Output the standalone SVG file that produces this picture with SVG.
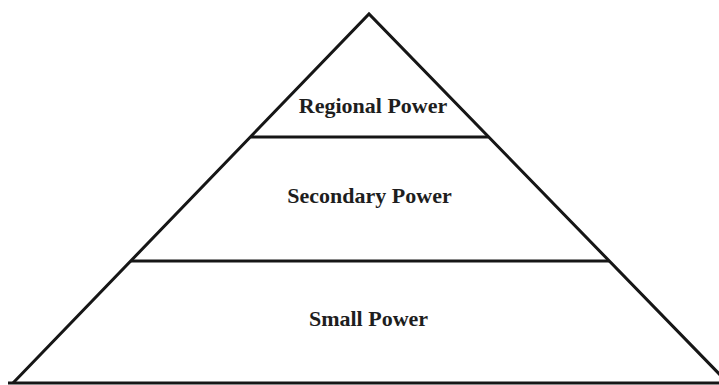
<svg xmlns="http://www.w3.org/2000/svg" width="719" height="385" viewBox="0 0 719 385">
<style>
.edge{stroke:#161616;stroke-width:3;fill:none;stroke-linejoin:miter}
.lbl{font-family:"Liberation Serif","Times New Roman",serif;font-weight:bold;font-size:22px;fill:#1e1e1e;text-anchor:middle}
</style>
<rect width="719" height="385" fill="#ffffff"/>
<g id="connectors">
<polyline class="edge" points="13,383 369,14 728,383"/>
<line class="edge" x1="8" y1="383" x2="719" y2="383"/>
<line class="edge" x1="251" y1="137" x2="488" y2="137"/>
<line class="edge" x1="131" y1="261" x2="609" y2="261"/>
</g>
<g id="regional-power"><text class="lbl" x="373" y="113">Regional Power</text></g>
<g id="secondary-power"><text class="lbl" x="369.5" y="203">Secondary Power</text></g>
<g id="small-power"><text class="lbl" x="368.5" y="326">Small Power</text></g>
</svg>
